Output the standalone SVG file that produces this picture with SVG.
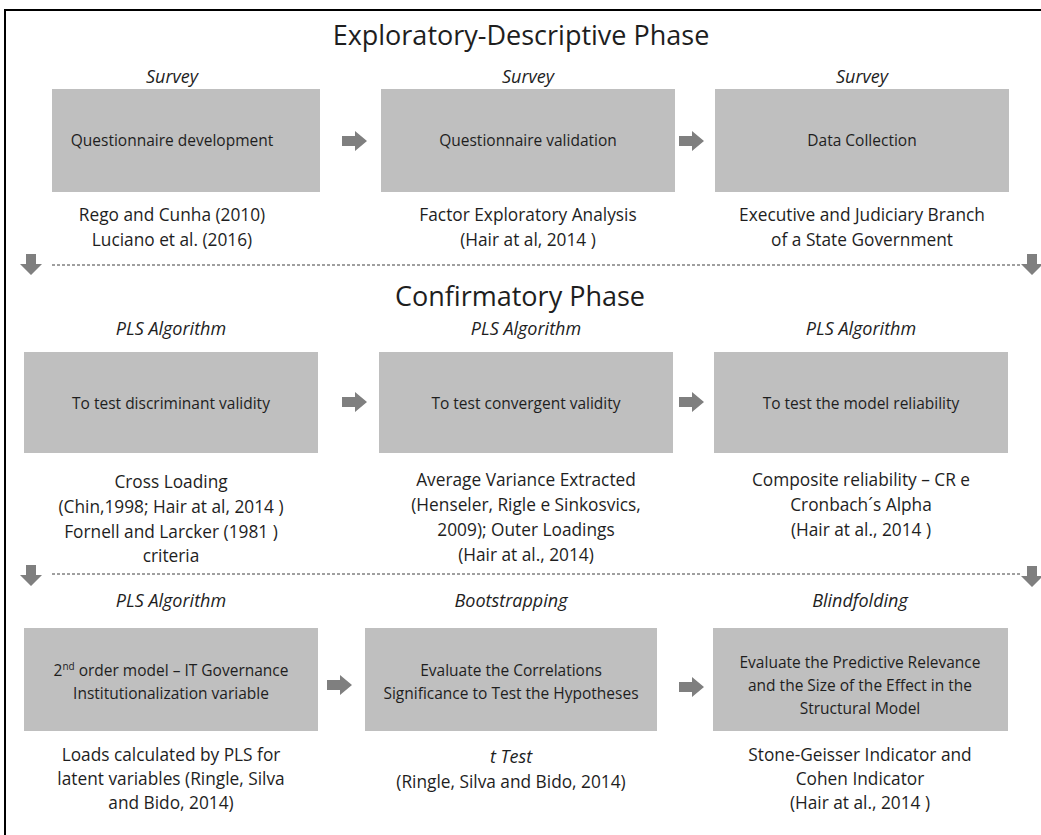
<svg xmlns="http://www.w3.org/2000/svg" width="1041" height="835" viewBox="0 0 1041 835">
<style>
.t{font-family:"Open Sans","Liberation Sans",sans-serif;fill:#1e1e1e;text-anchor:middle}
.title{font-size:27px}
.lab{font-size:18px;font-style:italic}
.box{fill:#bfbfbf}
.bt{font-size:15.5px}
.ref{font-size:17.3px}
.dash{stroke:#404040;stroke-width:1;stroke-dasharray:3 2;fill:none}
.arr{fill:#7f7f7f}
</style>
<defs>
<path id="ra" d="M0,-5 H13 V-10 L25,0 L13,10 V5 H0 Z"/>
<path id="da" d="M-5,0 H5 V10 H11 L0,21 L-11,10 H-5 Z"/>
</defs>
<rect x="5" y="10" width="1100" height="900" fill="none" stroke="#000" stroke-width="2"/>
<text class="t title" x="521" y="45">Exploratory-Descriptive Phase</text>
<text class="t title" x="520" y="306">Confirmatory Phase</text>

<g id="n1">
<text class="t lab" x="172" y="83">Survey</text>
<rect class="box" x="52" y="89" width="268" height="103"/>
<text class="t bt" x="172" y="146">Questionnaire development</text>
<text class="t ref" x="172" y="221">Rego and Cunha (2010)</text>
<text class="t ref" x="172" y="246">Luciano et al. (2016)</text>
</g>
<g id="n2">
<text class="t lab" x="528" y="83">Survey</text>
<rect class="box" x="381" y="89" width="294" height="103"/>
<text class="t bt" x="528" y="146">Questionnaire validation</text>
<text class="t ref" x="528" y="221">Factor Exploratory Analysis</text>
<text class="t ref" x="528" y="246">(Hair at al, 2014 )</text>
</g>
<g id="n3">
<text class="t lab" x="862" y="83">Survey</text>
<rect class="box" x="715" y="89" width="294" height="103"/>
<text class="t bt" x="862" y="146">Data Collection</text>
<text class="t ref" x="862" y="221">Executive and Judiciary Branch</text>
<text class="t ref" x="862" y="246">of a State Government</text>
</g>

<g id="n4">
<text class="t lab" x="171" y="335">PLS Algorithm</text>
<rect class="box" x="24" y="352" width="294" height="101"/>
<text class="t bt" x="171" y="409">To test discriminant validity</text>
<text class="t ref" x="171" y="488">Cross Loading</text>
<text class="t ref" x="171" y="513">(Chin,1998; Hair at al, 2014 )</text>
<text class="t ref" x="171" y="538">Fornell and Larcker (1981 )</text>
<text class="t ref" x="171" y="562">criteria</text>
</g>
<g id="n5">
<text class="t lab" x="526" y="335">PLS Algorithm</text>
<rect class="box" x="379" y="352" width="294" height="101"/>
<text class="t bt" x="526" y="409">To test convergent validity</text>
<text class="t ref" x="526" y="486">Average Variance Extracted</text>
<text class="t ref" x="526" y="511">(Henseler, Rigle e Sinkosvics,</text>
<text class="t ref" x="526" y="536">2009); Outer Loadings</text>
<text class="t ref" x="526" y="561">(Hair at al., 2014)</text>
</g>
<g id="n6">
<text class="t lab" x="861" y="335">PLS Algorithm</text>
<rect class="box" x="714" y="352" width="294" height="101"/>
<text class="t bt" x="861" y="409">To test the model reliability</text>
<text class="t ref" x="861" y="486">Composite reliability – CR e</text>
<text class="t ref" x="861" y="511">Cronbach´s Alpha</text>
<text class="t ref" x="861" y="536">(Hair at al., 2014 )</text>
</g>

<g id="n7">
<text class="t lab" x="171" y="607">PLS Algorithm</text>
<rect class="box" x="24" y="628" width="294" height="103"/>
<text class="t bt" x="171" y="676">2<tspan font-size="10" dy="-6">nd</tspan><tspan dy="6"> order model – IT Governance</tspan></text>
<text class="t bt" x="171" y="699">Institutionalization variable</text>
<text class="t ref" x="171" y="761">Loads calculated by PLS for</text>
<text class="t ref" x="171" y="785">latent variables (Ringle, Silva</text>
<text class="t ref" x="171" y="809">and Bido, 2014)</text>
</g>
<g id="n8">
<text class="t lab" x="511" y="607">Bootstrapping</text>
<rect class="box" x="365" y="628" width="292" height="103"/>
<text class="t bt" x="511" y="676" font-size="13.5px">Evaluate the Correlations</text>
<text class="t bt" x="511" y="699" font-size="13.5px">Significance to Test the Hypotheses</text>
<text class="t lab" x="511" y="763">t Test</text>
<text class="t ref" x="511" y="788">(Ringle, Silva and Bido, 2014)</text>
</g>
<g id="n9">
<text class="t lab" x="860" y="607">Blindfolding</text>
<rect class="box" x="713" y="628" width="295" height="103"/>
<text class="t bt" x="860" y="668">Evaluate the Predictive Relevance</text>
<text class="t bt" x="860" y="691">and the Size of the Effect in the</text>
<text class="t bt" x="860" y="714">Structural Model</text>
<text class="t ref" x="860" y="761">Stone-Geisser Indicator and</text>
<text class="t ref" x="860" y="785">Cohen Indicator</text>
<text class="t ref" x="860" y="809">(Hair at al., 2014 )</text>
</g>

<g id="connectors">
<use href="#ra" class="arr" x="342" y="141"/>
<use href="#ra" class="arr" x="679" y="141"/>
<use href="#ra" class="arr" x="342" y="402"/>
<use href="#ra" class="arr" x="679" y="402"/>
<use href="#ra" class="arr" x="327" y="685"/>
<use href="#ra" class="arr" x="679" y="687"/>
<line class="dash" x1="52" y1="265" x2="1022" y2="265"/>
<line class="dash" x1="52" y1="574" x2="1022" y2="574"/>
<use href="#da" class="arr" x="31" y="254"/>
<use href="#da" class="arr" x="1032" y="254"/>
<use href="#da" class="arr" x="31" y="565"/>
<use href="#da" class="arr" x="1032" y="566"/>
</g>
</svg>
